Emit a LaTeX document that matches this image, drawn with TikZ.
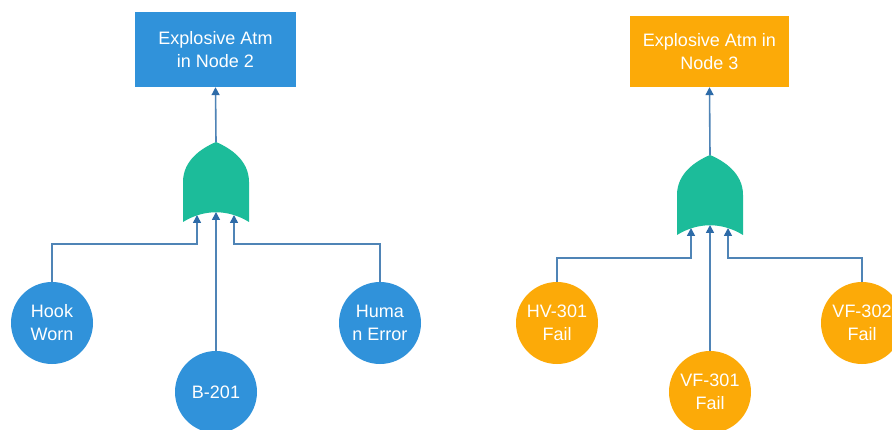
\documentclass[tikz,border=0pt]{standalone}
\usepackage{fontspec}
\setmainfont{Liberation Sans}
\usetikzlibrary{arrows.meta}
\definecolor{evblue}{HTML}{3092DA}
\definecolor{evorange}{HTML}{FCAA08}
\definecolor{gatecol}{HTML}{1CBC9A}
\definecolor{linecol}{HTML}{4F84B6}
\definecolor{tipcol}{HTML}{2D6BA8}
\tikzset{
  topbox/.style={rectangle, inner sep=0pt, align=center, text=white,
    font=\fontsize{18}{23}\selectfont},
  event/.style={circle, minimum size=82pt, inner sep=0pt, align=center, text=white,
    font=\fontsize{18}{23}\selectfont},
  conn/.style={draw=linecol, line width=1.6pt},
  arr/.style={conn, -{Triangle[length=8pt,width=8pt,color=tipcol]}},
  orgate/.pic={
    \fill[gatecol] (-33,-40) -- (-33,0) .. controls (-33,22) and (-14,34) .. (0,40)
      .. controls (14,34) and (33,22) .. (33,0) -- (33,-40)
      .. controls (12,-27) and (-12,-27) .. (-33,-40) -- cycle;
    \coordinate (-top) at (0,40);
    \coordinate (-inL) at (-19,-33);
    \coordinate (-inM) at (0,-30);
    \coordinate (-inR) at (18,-33);
  }
}
\begin{document}
\begin{tikzpicture}[x=1pt,y=1pt]
\useasboundingbox (0,0) rectangle (892,429);
\fill[white] (0,0) rectangle (892,429);

% left tree
\node[topbox, fill=evblue, minimum width=161pt, minimum height=75pt] (b2) at (215.5,379.5) {Explosive Atm\\in Node 2};
\pic (g1) at (216,247) {orgate};
\node[event, fill=evblue] (hw) at (52,106) {Hook\\Worn};
\node[event, fill=evblue] (b201) at (216,37) {B-201};
\node[event, fill=evblue] (he) at (380,106) {Huma\\n Error};
\draw[arr] (g1-top) -- (b2.south);
\draw[arr] (hw.north) -- ++(0,38) -| (g1-inL);
\draw[arr] (b201.north) -- (g1-inM);
\draw[arr] (he.north) -- ++(0,38) -| (g1-inR);

% right tree
\node[topbox, fill=evorange, minimum width=159pt, minimum height=71pt] (b3) at (709.5,377.5) {Explosive Atm in\\Node 3};
\pic (g2) at (710,234) {orgate};
\node[event, fill=evorange] (hv) at (557,106) {HV-301\\Fail};
\node[event, fill=evorange] (vf1) at (710,37) {VF-301\\Fail};
\node[event, fill=evorange] (vf2) at (862,106) {VF-302\\Fail};
\draw[arr] (g2-top) -- (b3.south);
\draw[arr] (hv.north) -- ++(0,24) -| (g2-inL);
\draw[arr] (vf1.north) -- (g2-inM);
\draw[arr] (vf2.north) -- ++(0,24) -| (g2-inR);
\end{tikzpicture}
\end{document}
